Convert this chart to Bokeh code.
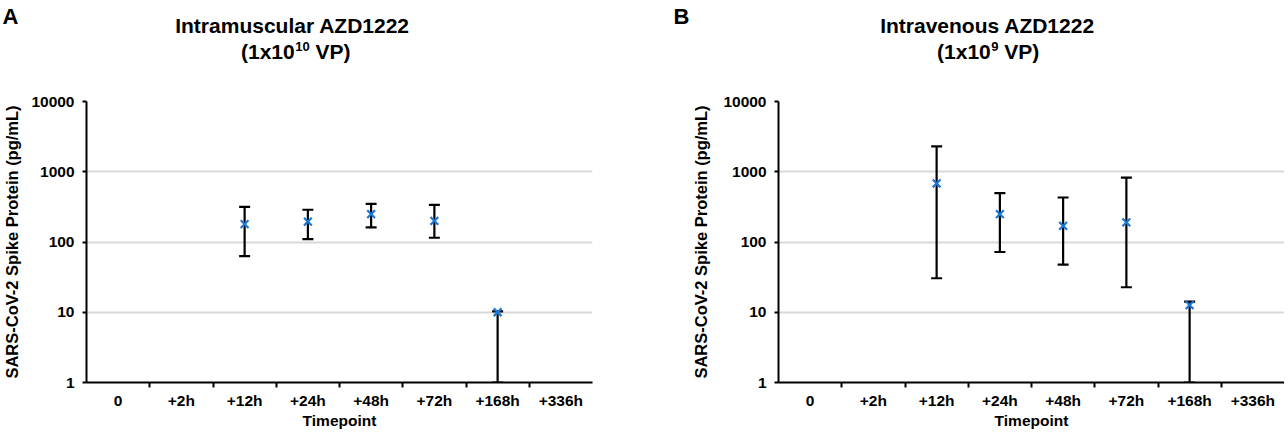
from bokeh.plotting import figure
from bokeh.models import (ColumnDataSource, Range1d, FixedTicker, NumeralTickFormatter,
                          Whisker, TeeHead)
from bokeh.core.properties import value
from bokeh.layouts import row, column
from bokeh.embed import file_html
from bokeh.resources import INLINE

# ---- data -------------------------------------------------------------
timepoints = ["0", "+2h", "+12h", "+24h", "+48h", "+72h", "+168h", "+336h"]
y_ticks = [1, 10, 100, 1000, 10000]

# Panel A: Intramuscular AZD1222 (1x10^10 VP)
im_mean  = [None, None, 180, 195, 250, 200, 10, None]
im_upper = [None, None, 316, 288, 349, 338, 10.3, None]
im_lower = [None, None, 63, 110, 162, 115, 1, None]

# Panel B: Intravenous AZD1222 (1x10^9 VP)
iv_mean  = [None, None, 681, 249, 170, 190, 12.6, None]
iv_upper = [None, None, 2290, 495, 430, 826, 14.2, None]
iv_lower = [None, None, 30.5, 72, 47.6, 22.7, 1, None]

panel_letters = ["A", "B"]
titles = ["Intramuscular AZD1222", "Intravenous AZD1222"]
dose_base = ["(1x10", "(1x10"]
dose_exp = ["10", "9"]
dose_unit = ["VP)", "VP)"]

FONT = "Liberation Sans"
BLUE = "#1b78d2"
W_A, W_B = 644, 640
HEAD_H = 72
H = 435 - HEAD_H
FRAME_TOP = 101 - HEAD_H
FRAME_BOTTOM = 382 - HEAD_H


def header():
    w = W_A + W_B
    p = figure(width=w, height=HEAD_H, x_range=Range1d(0, w), y_range=Range1d(HEAD_H, 0),
               output_backend="svg", toolbar_location=None,
               x_axis_location=None, y_axis_location=None,
               min_border_left=0, min_border_right=0, min_border_top=0, min_border_bottom=0)
    p.grid.visible = False
    p.outline_line_color = None
    p.background_fill_color = "white"
    p.border_fill_color = "white"

    def txt(xs, ys, texts, size, align):
        p.text(x=xs, y=ys, text=texts, text_font=value(FONT), text_font_style="bold",
               text_font_size=value(size), text_color="black",
               text_align=align, text_baseline="alphabetic")

    # panel letters
    txt([2, 673], [16, 16], panel_letters, "22px", "left")
    # first title line
    txt([292, 987], [25, 25], titles, "21px", "center")
    # second title line: base, superscript exponent, unit
    txt([294.2, 990.3], [51, 51], dose_base, "21px", "right")
    txt([294.7, 990.8], [45.5, 45.5], dose_exp, "13px", "left")
    txt([315.0, 1003.8], [51, 51], dose_unit, "21px", "left")
    return p


def panel(mean, upper, lower, width, bl, br, ylab_standoff):
    n = len(timepoints)
    p = figure(width=width, height=H, y_axis_type="log",
               x_range=Range1d(0, n), y_range=Range1d(1, 10000),
               output_backend="svg", toolbar_location=None,
               min_border_left=bl, min_border_right=br,
               min_border_top=FRAME_TOP, min_border_bottom=H - FRAME_BOTTOM)
    p.outline_line_color = None
    p.background_fill_color = "white"
    p.border_fill_color = "white"

    centers = [i + 0.5 for i in range(n)]
    xt = FixedTicker(ticks=centers, minor_ticks=list(range(1, n)))
    p.xaxis.ticker = xt
    p.xaxis.major_label_overrides = {c: t for c, t in zip(centers, timepoints)}
    p.xaxis.major_tick_line_color = None
    p.xaxis.major_tick_out = 0
    p.xaxis.minor_tick_line_color = "black"
    p.xaxis.minor_tick_line_width = 2
    p.xaxis.minor_tick_out = 5
    p.xaxis.minor_tick_in = 0
    p.xaxis.major_label_standoff = 4
    p.xaxis.axis_label = "Timepoint"
    p.xaxis.axis_label_standoff = 0

    yt = FixedTicker(ticks=y_ticks, minor_ticks=[])
    p.yaxis.ticker = yt
    p.yaxis.formatter = NumeralTickFormatter(format="0")
    p.yaxis.major_tick_out = 4
    p.yaxis.major_tick_in = 0
    p.yaxis.major_tick_line_width = 2
    p.yaxis.minor_tick_line_color = None
    p.yaxis.major_label_standoff = 8
    p.yaxis.axis_label = "SARS-CoV-2 Spike Protein (pg/mL)"
    p.yaxis.axis_label_standoff = ylab_standoff

    for ax in (p.xaxis, p.yaxis):
        ax.axis_line_color = "black"
        ax.axis_line_width = 2
        ax.major_label_text_font = FONT
        ax.major_label_text_font_style = "bold"
        ax.major_label_text_font_size = "15.5px"
        ax.major_label_text_color = "black"
        ax.axis_label_text_font = FONT
        ax.axis_label_text_font_style = "bold"
        ax.axis_label_text_color = "black"
    p.xaxis.axis_label_text_font_size = "15.5px"
    p.yaxis.axis_label_text_font_size = "16.5px"

    p.xgrid.grid_line_color = None
    p.ygrid.ticker = yt
    p.ygrid.grid_line_color = "#d9d9d9"
    p.ygrid.grid_line_width = 2

    idx = [i for i in range(n) if mean[i] is not None]
    src = ColumnDataSource(dict(x=[centers[i] for i in idx],
                                mean=[mean[i] for i in idx],
                                upper=[upper[i] for i in idx],
                                lower=[lower[i] for i in idx]))
    w = Whisker(source=src, base="x", upper="upper", lower="lower", dimension="height",
                line_color="black", line_width=2.2,
                upper_head=TeeHead(size=11, line_width=2.2, line_color="black"),
                lower_head=TeeHead(size=11, line_width=2.2, line_color="black"))
    w.level = "underlay"
    p.add_layout(w)
    p.scatter("x", "mean", source=src, marker="x", size=11, line_width=2.2,
              line_color=BLUE)
    return p


pa = panel(im_mean, im_upper, im_lower, W_A, 83, 52, 7)
pb = panel(iv_mean, iv_upper, iv_lower, W_B, 134, 0, 10)

layout = column(header(), row(pa, pb))
open("out.html", "w").write(file_html(layout, INLINE))
